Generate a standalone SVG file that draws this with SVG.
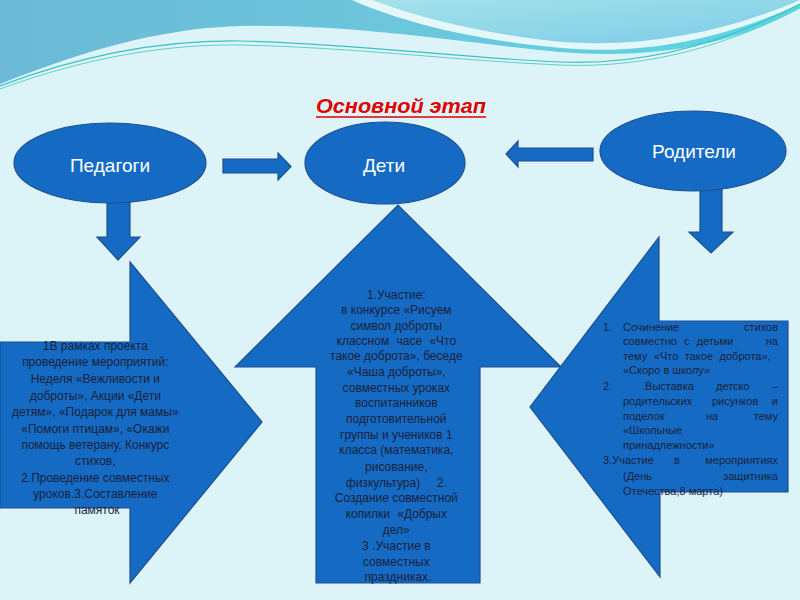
<svg xmlns="http://www.w3.org/2000/svg" width="800" height="600" viewBox="0 0 800 600">
<defs>
<linearGradient id="gBlue" x1="0" y1="0" x2="1" y2="0">
<stop offset="0" stop-color="#6bb9d6"/>
<stop offset="0.5" stop-color="#6cc6dc"/>
<stop offset="1" stop-color="#5ad6e6"/>
</linearGradient>
<linearGradient id="gLight" x1="0" y1="0" x2="1" y2="1">
<stop offset="0" stop-color="#a4e2ea"/>
<stop offset="1" stop-color="#7ccbe8"/>
</linearGradient>
<style>
.shape{fill:#156bc3;stroke:#1d4f90;stroke-width:1.2}
.lbl{font-family:"Liberation Sans",Arial,sans-serif;font-size:19px;fill:#ffffff;text-anchor:middle}
.txt{font-family:"Liberation Sans",Arial,sans-serif;font-size:12px;fill:#1b1f3b;text-anchor:middle}
.rt{font-family:"Liberation Sans",Arial,sans-serif;font-size:11px;fill:#1b1f3b}
.re{text-anchor:end}
</style>
</defs>
<rect width="800" height="600" fill="#dcf4f8"/>
<g id="background-waves">
<path d="M0,0 H800 V8 C740,42 660,60 560,52 C470,44 360,24 240,26 C160,28 80,52 0,84 Z" fill="url(#gBlue)"/>
<path d="M352,0 C410,26 490,42 562,48 C650,56 730,36 800,4 V0 Z" fill="#e4f8fa"/>
<path d="M372,0 C430,22 500,36 562,42 C650,48 730,30 800,0 Z" fill="url(#gLight)"/>
<path d="M0,86 C90,52 170,40 240,41 C350,43 460,58 560,62 C650,66 730,40 800,4" fill="none" stroke="#3fbfbf" stroke-width="1.2"/>
<path d="M0,89 C90,56 170,44 240,45 C350,47 460,61 560,65 C650,69 730,44 800,8" fill="none" stroke="#5fd0c8" stroke-width="1"/>
</g>
<g id="title">
<text x="401" y="113" font-family="Liberation Sans,Arial,sans-serif" font-size="21" font-weight="bold" font-style="italic" fill="#e00000" text-anchor="middle" textLength="170" lengthAdjust="spacingAndGlyphs">Основной этап</text>
<line x1="316" y1="117" x2="486" y2="117" stroke="#e00000" stroke-width="1.5"/>
</g>
<g id="connectors">
<path class="shape" d="M223,159 H278 V153 L291,166.5 L278,180 V173 H223 Z"/>
<path class="shape" d="M593,148 H518 V141 L506,154 L518,167 V161 H593 Z"/>
<path class="shape" d="M107,198 H130 V237 H140 L118,260 L97,237 H107 Z"/>
<path class="shape" d="M700,188 H722 V232 H733 L711,253 L689,232 H700 Z"/>
</g>
<g id="node-pedagogi">
<ellipse class="shape" cx="110" cy="163" rx="96" ry="40"/>
<text class="lbl" x="110" y="172">Педагоги</text>
</g>
<g id="node-deti">
<ellipse class="shape" cx="385" cy="163" rx="80" ry="41"/>
<text class="lbl" x="384" y="172">Дети</text>
</g>
<g id="node-roditeli">
<ellipse class="shape" cx="693" cy="151" rx="93" ry="40"/>
<text class="lbl" x="694" y="158">Родители</text>
</g>
<g id="panel-pedagogi">
<path class="shape" d="M0,342 H130 V262 L262,422 L130,583 V508 H0 Z"/>
<text class="txt">
<tspan x="97" y="350">1В рамках проекта</tspan>
<tspan x="97" y="366">проведение мероприятий:</tspan>
<tspan x="97" y="383">Неделя «Вежливости и</tspan>
<tspan x="97" y="400">доброты», Акции «Дети</tspan>
<tspan x="97" y="416">детям», «Подарок для мамы»</tspan>
<tspan x="97" y="433">«Помоги птицам», «Окажи</tspan>
<tspan x="97" y="449">помощь ветерану, Конкурс</tspan>
<tspan x="97" y="465">стихов,</tspan>
<tspan x="97" y="482">2.Проведение совместных</tspan>
<tspan x="97" y="498">уроков.3.Составление</tspan>
<tspan x="97" y="514">памяток</tspan>
</text>
</g>
<g id="panel-deti">
<path class="shape" d="M316,583 V367 H235 L398,205 L561,367 H480 V583 Z"/>
<text class="txt">
<tspan x="398" y="299">1.Участие:</tspan>
<tspan x="398" y="314">в конкурсе «Рисуем</tspan>
<tspan x="398" y="330">символ доброты</tspan>
<tspan x="398" y="345" word-spacing="4">классном часе «Что</tspan>
<tspan x="398" y="360">такое доброта», беседе</tspan>
<tspan x="398" y="376">«Чаша доброты»,</tspan>
<tspan x="398" y="392">совместных уроках</tspan>
<tspan x="398" y="407">воспитанников</tspan>
<tspan x="398" y="423">подготовительной</tspan>
<tspan x="398" y="439">группы и учеников 1</tspan>
<tspan x="398" y="454">класса (математика,</tspan>
<tspan x="398" y="471">рисование,</tspan>
<tspan x="398" y="487" xml:space="preserve">физкультура)     2.</tspan>
<tspan x="398" y="502">Создание совместной</tspan>
<tspan x="398" y="518" word-spacing="4">копилки «Добрых</tspan>
<tspan x="398" y="534">дел»</tspan>
<tspan x="398" y="550">3 .Участие в</tspan>
<tspan x="398" y="566">совместных</tspan>
<tspan x="398" y="581">праздниках.</tspan>
</text>
</g>
<g id="panel-roditeli">
<path class="shape" d="M788,321 H659 V237 L530,407 L660,577 V492 H788 Z"/>
<text class="rt" x="603" y="331">1.</text>
<text class="rt" x="623" y="331">Сочинение</text>
<text class="rt re" x="778" y="331">стихов</text>
<text class="rt" x="623" y="345" word-spacing="4">совместно с детьми</text>
<text class="rt re" x="778" y="345">на</text>
<text class="rt" x="623" y="360" word-spacing="3.5">тему «Что такое доброта»,</text>
<text class="rt" x="623" y="374">«Скоро в школу»</text>
<text class="rt" x="603" y="390">2.</text>
<text class="rt" x="642" y="390">.Выставка</text>
<text class="rt" x="716" y="390">детско</text>
<text class="rt re" x="778" y="390">–</text>
<text class="rt" x="623" y="405">родительских</text>
<text class="rt" x="712" y="405">рисунков</text>
<text class="rt re" x="778" y="405">и</text>
<text class="rt" x="623" y="420">поделок</text>
<text class="rt" x="706" y="420">на</text>
<text class="rt re" x="778" y="420">тему</text>
<text class="rt" x="623" y="434">«Школьные</text>
<text class="rt" x="623" y="449">принадлежности»</text>
<text class="rt" x="603" y="464">3.Участие</text>
<text class="rt" x="674" y="464">в</text>
<text class="rt re" x="778" y="464">мероприятиях</text>
<text class="rt" x="623" y="480">(День</text>
<text class="rt re" x="778" y="480">защитника</text>
<text class="rt" x="623" y="495">Отечества,8 марта)</text>
</g>
</svg>
